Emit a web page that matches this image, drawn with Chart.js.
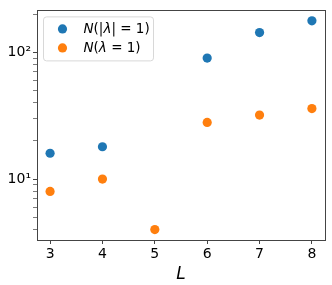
<!DOCTYPE html>
<html>
<head>
<meta charset="utf-8">
<script src="https://cdn.jsdelivr.net/npm/chart.js@4"></script>
<style>
  html, body { margin: 0; padding: 0; background: #fff; }
  #wrap { width: 332px; height: 285px; }
</style>
</head>
<body>
<div id="wrap"><canvas id="c" width="332" height="285"></canvas></div>
<script>
// data
const sizesL = [3, 4, 5, 6, 7, 8];
const absLambdaOne = [16, 18, null, 90, 143, 177];   // N(|λ| = 1)
const lambdaOne = [8, 10, 4, 28, 32, 36];           // N(λ = 1)
const xTicks = [3, 4, 5, 6, 7, 8];
const yTicks = [4, 5, 6, 7, 8, 9, 10, 20, 30, 40, 50, 60, 70, 80, 90, 100, 200];
const yLabels = { 10: '10\u00b9', 100: '10\u00b2' };

const FONT = "'DejaVu Sans', sans-serif";
const BLUE = '#1f77b4';
const ORANGE = '#ff7f0e';

function points(ys) {
  const out = [];
  sizesL.forEach((x, i) => { if (ys[i] != null) out.push({ x: x, y: ys[i] }); });
  return out;
}

// legend drawn in the plot like matplotlib's, with math-style italics
const legendBox = {
  id: 'legendBox',
  afterDraw(chart) {
    const ctx = chart.ctx;
    const a = chart.chartArea;
    const x0 = a.left + 6.5, y0 = a.top + 6.5, w = 110, h = 44;
    ctx.save();
    ctx.fillStyle = 'rgba(255,255,255,0.8)';
    ctx.strokeStyle = '#d8d8d8';
    ctx.lineWidth = 1;
    ctx.beginPath();
    ctx.roundRect(x0, y0, w, h, 3);
    ctx.fill();
    ctx.stroke();

    const rows = [
      { color: BLUE, parts: [['N', true], ['(|', false], ['\u03bb', true], ['| = 1)', false]] },
      { color: ORANGE, parts: [['N', true], ['(', false], ['\u03bb', true], [' = 1)', false]] }
    ];
    rows.forEach((r, i) => {
      const cy = y0 + 12 + i * 19;
      ctx.fillStyle = r.color;
      ctx.beginPath();
      ctx.arc(x0 + 19, cy, 4.6, 0, Math.PI * 2);
      ctx.fill();
      let tx = x0 + 40;
      ctx.fillStyle = '#000';
      ctx.textBaseline = 'middle';
      r.parts.forEach(p => {
        ctx.font = (p[1] ? 'italic ' : '') + '13.5px ' + FONT;
        ctx.fillText(p[0], tx, cy + 1);
        tx += ctx.measureText(p[0]).width;
      });
    });
    ctx.restore();
  }
};

// full box around the plot
const frame = {
  id: 'frame',
  afterDraw(chart) {
    const a = chart.chartArea, ctx = chart.ctx;
    ctx.save();
    ctx.strokeStyle = '#444';
    ctx.lineWidth = 1;
    ctx.strokeRect(Math.round(a.left) + 0.5, Math.round(a.top) + 0.5,
      Math.round(a.right - a.left), Math.round(a.bottom - a.top));
    ctx.restore();
  }
};

new Chart(document.getElementById('c'), {
  type: 'scatter',
  data: {
    datasets: [
      { label: 'N(|\u03bb| = 1)', data: points(absLambdaOne), backgroundColor: BLUE, borderWidth: 0, pointRadius: 4.6 },
      { label: 'N(\u03bb = 1)', data: points(lambdaOne), backgroundColor: ORANGE, borderWidth: 0, pointRadius: 4.6 }
    ]
  },
  options: {
    responsive: false,
    animation: false,
    layout: { padding: { top: 7, right: 7, left: 0, bottom: 0 } },
    plugins: { legend: { display: false }, tooltip: { enabled: false } },
    scales: {
      x: {
        type: 'linear',
        min: 2.75, max: 8.25,
        afterBuildTicks(s) { s.ticks = xTicks.map(v => ({ value: v })); },
        afterFit(s) { s.height = 45; },
        grid: { drawOnChartArea: false, drawTicks: true, tickLength: 4, color: '#444' },
        border: { display: false },
        ticks: { color: '#000', font: { family: FONT, size: 14 }, padding: 2, maxRotation: 0,
          callback: v => String(v) },
        title: { display: true, text: 'L', color: '#000', padding: { top: 0, bottom: 0 },
          font: { family: FONT, size: 17, style: 'italic' } }
      },
      y: {
        type: 'logarithmic',
        min: 3.31, max: 214,
        afterBuildTicks(s) { s.ticks = yTicks.map(v => ({ value: v, major: v === 10 || v === 100 })); },
        afterFit(s) { s.width = 37; },
        grid: { drawOnChartArea: false, drawTicks: true, tickLength: 4, color: '#444',
          tickWidth: c => (c.tick && yLabels[c.tick.value] ? 1 : 0.7) },
        border: { display: false },
        ticks: { color: '#000', font: { family: FONT, size: 14 }, padding: 2, autoSkip: false,
          callback: v => yLabels[v] || '' }
      }
    }
  },
  plugins: [legendBox, frame]
});
</script>
</body>
</html>
